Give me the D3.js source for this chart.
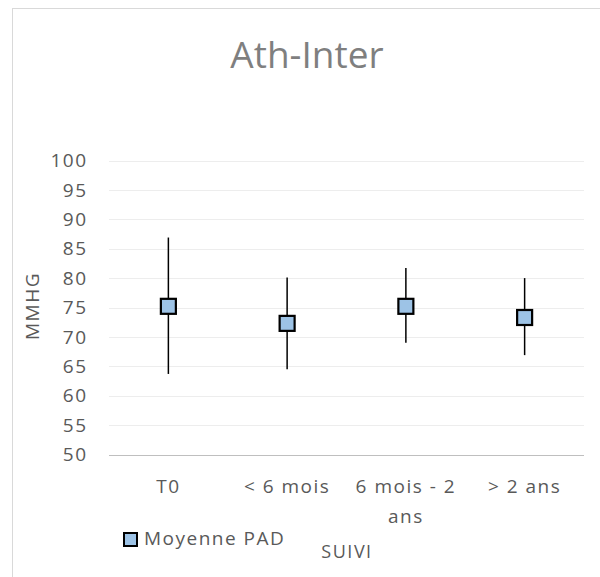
<!DOCTYPE html>
<html>
<head>
<meta charset="utf-8">
<style>
body { margin: 0; background: #fff; }
svg { display: block; }
text { font-family: "Open Sans", "Noto Sans", sans-serif; fill: #595959; letter-spacing: 1.5px; }
.grid line { stroke: #EDEDED; stroke-width: 1px; }
</style>
</head>
<body>
<svg id="chart" width="600" height="577"></svg>
<script src="https://cdnjs.cloudflare.com/ajax/libs/d3/7.8.5/d3.min.js"></script>
<script>
// data
const categories = ["T0", "< 6 mois", "6 mois - 2 ans", "> 2 ans"];
const meanPad = [75.2, 72.3, 75.2, 73.3];
const highPad = [86.9, 80.1, 81.7, 80.0];
const lowPad = [63.7, 64.5, 69.0, 66.9];
const yTicks = [50, 55, 60, 65, 70, 75, 80, 85, 90, 95, 100];

const svg = d3.select("#chart");
const margin = { left: 109, right: 16, top: 160.5, bottom: 122.5 };
const W = 600, H = 577;

// outer chart frame (cut off at right and bottom)
svg.append("rect")
    .attr("x", 12.5).attr("y", 8.5)
    .attr("width", 700).attr("height", 700)
    .attr("fill", "none")
    .attr("stroke", "#D9D9D9");

const x = d3.scaleBand()
    .domain(categories)
    .range([margin.left, W - margin.right]);

const y = d3.scaleLinear()
    .domain([50, 100])
    .range([H - margin.bottom, margin.top]);

// gridlines
svg.append("g").attr("class", "grid")
    .selectAll("line")
    .data(yTicks.slice(1))
    .enter().append("line")
    .attr("x1", margin.left).attr("x2", W - margin.right)
    .attr("y1", d => Math.round(y(d)) + 0.5)
    .attr("y2", d => Math.round(y(d)) + 0.5);

// x axis line
svg.append("line")
    .attr("x1", margin.left).attr("x2", W - margin.right)
    .attr("y1", Math.round(y(50)) + 0.5).attr("y2", Math.round(y(50)) + 0.5)
    .attr("stroke", "#BFBFBF").attr("stroke-width", 1.2);

// y tick labels
svg.append("g")
    .selectAll("text")
    .data(yTicks)
    .enter().append("text")
    .attr("x", 87.5)
    .attr("y", d => y(d))
    .attr("dy", "0.35em")
    .attr("text-anchor", "end")
    .style("font-size", "19px")
    .text(d => d);

// x tick labels, wrapped like the original
const xLabels = svg.append("g")
    .selectAll("text")
    .data(categories)
    .enter().append("text")
    .attr("text-anchor", "middle")
    .style("font-size", "19px");

xLabels.each(function(d) {
    const lines = d === "6 mois - 2 ans" ? ["6 mois - 2", "ans"] : [d];
    const t = d3.select(this);
    lines.forEach((l, i) => {
        t.append("tspan")
            .attr("x", x(d) + x.bandwidth() / 2)
            .attr("y", 493 + i * 30)
            .text(l);
    });
});

// title
svg.append("text")
    .attr("x", 307).attr("y", 68)
    .attr("text-anchor", "middle")
    .style("font-size", "37px")
    .style("letter-spacing", "0px")
    .style("fill", "#7F7F7F")
    .text("Ath-Inter");

// axis titles
svg.append("text")
    .attr("transform", "translate(39,306) rotate(-90)")
    .attr("text-anchor", "middle")
    .style("font-size", "19px")
    .text("MMHG");

svg.append("text")
    .attr("x", 347)
    .attr("y", 558)
    .attr("text-anchor", "middle")
    .style("font-size", "18px")
    .text("SUIVI");

// error bars
const cx = d => x(d) + x.bandwidth() / 2;
svg.append("g")
    .selectAll("line")
    .data(categories)
    .enter().append("line")
    .attr("x1", cx).attr("x2", cx)
    .attr("y1", (d, i) => y(highPad[i]))
    .attr("y2", (d, i) => y(lowPad[i]))
    .attr("stroke", "#000")
    .attr("stroke-width", 1.5);

// markers
const s = 15;
svg.append("g")
    .selectAll("rect")
    .data(categories)
    .enter().append("rect")
    .attr("x", d => cx(d) - s / 2)
    .attr("y", (d, i) => y(meanPad[i]) - s / 2)
    .attr("width", s).attr("height", s)
    .attr("fill", "#9DC3E6")
    .attr("stroke", "#000")
    .attr("stroke-width", 2.2);

// legend
svg.append("rect")
    .attr("x", 124).attr("y", 533)
    .attr("width", 13).attr("height", 13)
    .attr("fill", "#9DC3E6")
    .attr("stroke", "#000")
    .attr("stroke-width", 2);

svg.append("text")
    .attr("x", 144).attr("y", 545)
    .style("font-size", "19px")
    .text("Moyenne PAD");
</script>
</body>
</html>
